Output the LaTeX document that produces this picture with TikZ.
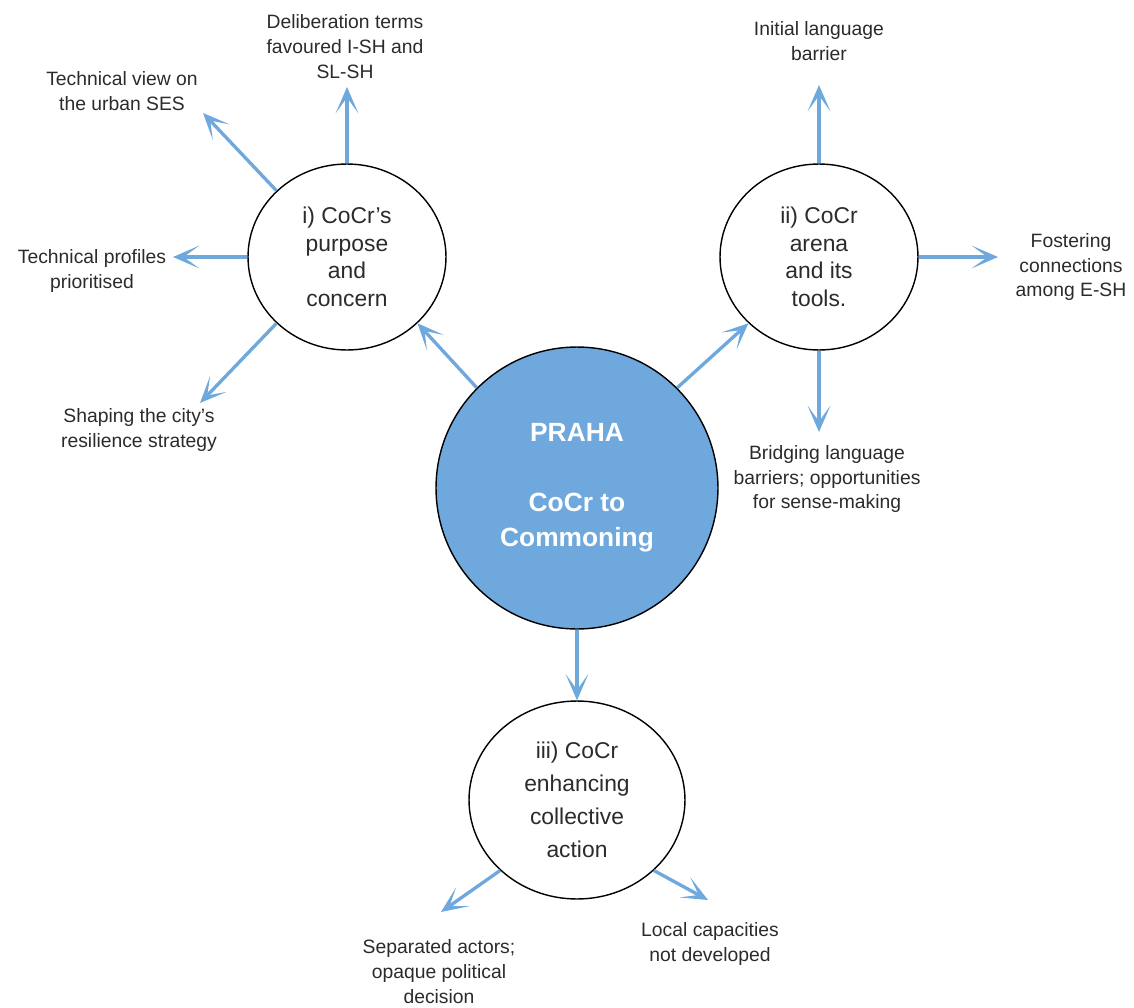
\documentclass[tikz,border=0pt]{standalone}
\usepackage{fontspec}
\setmainfont{Liberation Sans}
\usepackage{tikz}
\usetikzlibrary{shapes.geometric, arrows.meta, positioning}
\definecolor{prahablue}{HTML}{6FA8DC}
\definecolor{inkgray}{HTML}{2B2B2B}

\begin{document}
\begin{tikzpicture}[
    x=0.02cm, y=-0.02cm,
    theme/.style={ellipse, draw=black, line width=0.8pt, fill=white, inner sep=0pt,
                  align=center, text=inkgray, font=\fontsize{13}{15.7}\selectfont},
    hub/.style={theme, fill=prahablue, text=white,
                font=\fontsize{15}{20}\selectfont\bfseries},
    note/.style={align=center, inner sep=0pt, text=inkgray,
                 font=\fontsize{11}{14.2}\selectfont},
    arrow/.style={-{Stealth[length=15pt, width=13pt, inset=9pt]}, prahablue, line width=1.9pt}
]
\useasboundingbox (0,0) rectangle (1134,1008);

% Centre and the three themes
\node[hub, minimum width=5.64cm, minimum height=5.64cm] at (577,488) (praha) {PRAHA\\[20pt]CoCr to\\Commoning};
\node[theme, minimum width=3.96cm, minimum height=3.72cm] at (347,257) (purpose) {i) CoCr's\\purpose\\and\\concern};
\node[theme, minimum width=3.96cm, minimum height=3.72cm] at (819,257) (arena) {ii) CoCr\\arena\\and its\\tools.};
\node[theme, minimum width=4.32cm, minimum height=3.96cm, font=\fontsize{13}{18.8}\selectfont] at (577,800) (action) {iii) CoCr\\enhancing\\collective\\action};

% Findings
\node[note] at (345,47) (delib) {Deliberation terms\\favoured I-SH and\\SL-SH};
\node[note] at (122,91) (techview) {Technical view on\\the urban SES};
\node[note] at (92,271) (techprof) {Technical profiles\\prioritised};
\node[note] at (139,430) (shaping) {Shaping the city's\\resilience strategy};
\node[note] at (819,41) (initlang) {Initial language\\barrier};
\node[note] at (1071,267) (fostering) {Fostering\\connections\\among E-SH};
\node[note] at (827,479) (bridging) {Bridging language\\barriers; opportunities\\for sense-making};
\node[note] at (439,972) (separated) {Separated actors;\\opaque political\\decision};
\node[note] at (710,944) (localcap) {Local capacities\\not developed};

% Arrow ends
\coordinate (delibtip) at (347,87);
\coordinate (techviewtip) at (203,113);
\coordinate (techproftip) at (173,257);
\coordinate (shapingtip) at (200,403);
\coordinate (initlangtip) at (819,85);
\coordinate (fosteringtip) at (998,257);
\coordinate (bridgingtip) at (819,432);
\coordinate (separatedtip) at (441,912);
\coordinate (localcaptip) at (708,900);

% Connections
\draw[arrow] (praha.north west) -- (purpose.south east);
\draw[arrow] (praha.north east) -- (arena.south west);
\draw[arrow] (praha.south) -- (action.north);

\draw[arrow] (purpose.north) -- (delibtip);
\draw[arrow] (purpose.north west) -- (techviewtip);
\draw[arrow] (purpose.west) -- (techproftip);
\draw[arrow] (purpose.south west) -- (shapingtip);

\draw[arrow] (arena.north) -- (initlangtip);
\draw[arrow] (arena.east) -- (fosteringtip);
\draw[arrow] (arena.south) -- (bridgingtip);

\draw[arrow] (action.south west) -- (separatedtip);
\draw[arrow] (action.south east) -- (localcaptip);

\end{tikzpicture}
\end{document}
